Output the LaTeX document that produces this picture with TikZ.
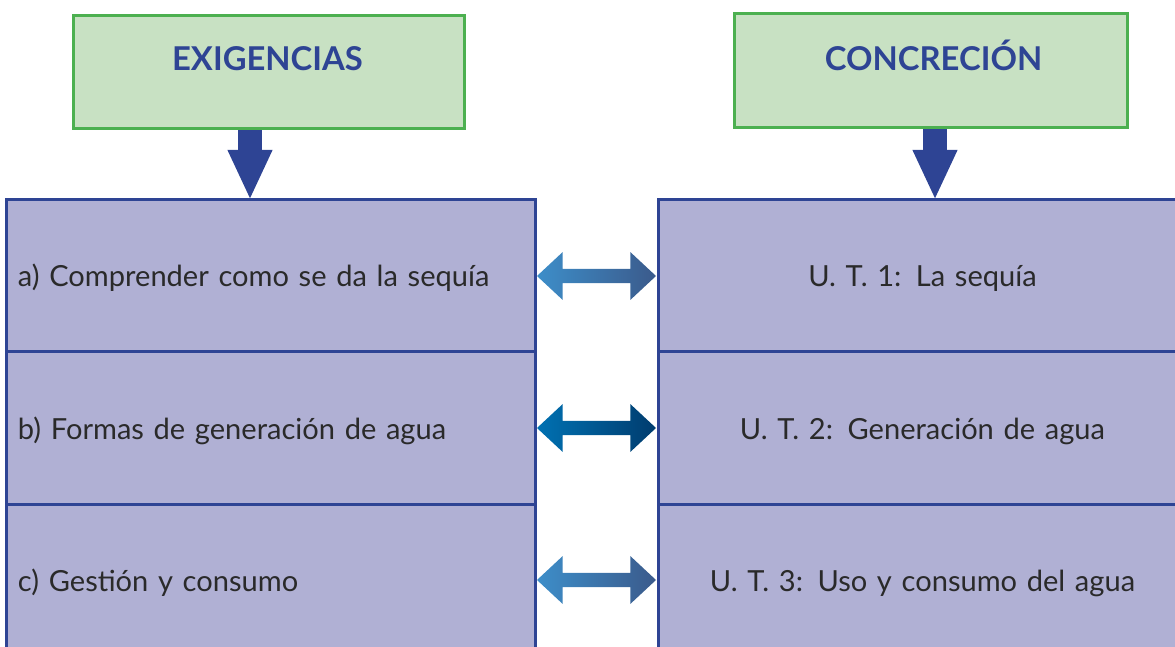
\documentclass[tikz,border=0pt]{standalone}
\usepackage{fontspec}
\setmainfont{Lato}
\usetikzlibrary{
    positioning,
    arrows.meta,
    shapes.arrows
}
\definecolor{verdeborde}{HTML}{4CB050}
\definecolor{verdefondo}{HTML}{C8E1C3}
\definecolor{azul}{HTML}{2E4494}
\definecolor{lila}{HTML}{B0B0D4}
\definecolor{gristexto}{HTML}{2A2A2A}
\definecolor{celeste}{HTML}{3D8EC9}
\definecolor{celestemedio}{HTML}{3889C5}
\definecolor{pizarra}{HTML}{3B5A8B}
\definecolor{marino}{HTML}{0071B2}
\definecolor{marinomedio}{HTML}{006CAD}
\definecolor{marinooscuro}{HTML}{003C6E}
\tikzset{
  titulo/.style={
    draw=verdeborde,
    fill=verdefondo,
    line width=0.09cm,
    minimum width=11.73cm,
    minimum height=3.39cm,
    inner sep=0pt
  },
  textotitulo/.style={
    anchor=base,
    text=azul,
    font=\bfseries\fontsize{28}{33}\selectfont
  },
  celda/.style={
    draw=azul,
    fill=lila,
    line width=0.09cm,
    outer sep=0pt,
    minimum width=15.87cm,
    minimum height=4.56cm,
    text width=15.15cm,
    inner xsep=0.36cm,
    inner ysep=0pt,
    text height=0.9cm,
    text depth=0.24cm,
    align=left,
    text=gristexto,
    font=\fontsize{24.8}{30}\selectfont
  },
  bajada/.style={
    azul,
    line width=0.72cm,
    -{Triangle[width=1.23cm,length=1.5cm]}
  },
  doble/.style={
    double arrow,
    minimum height=3.57cm,
    inner xsep=0pt,
    inner ysep=0.21cm,
    double arrow head extend=0.5cm,
    double arrow tip angle=86
  }
}

\begin{document}
\begin{tikzpicture}
    \useasboundingbox (0,0) rectangle (35.25,-19.41);
    \clip (0,0) rectangle (35.25,-19.41);

    % encabezados
    \node[titulo] (exi) at (8.055,-2.175) {};
    \node[titulo,minimum width=11.79cm,minimum height=3.42cm] (con) at (27.915,-2.13) {};
    \node[textotitulo] (exit) at ([xshift=-0.03cm,yshift=0.05cm]exi.center) {EXIGENCIAS};
    \node[textotitulo] (cont) at ([xshift=0.09cm]con.center) {CONCRECIÓN};

    % celdas
    \node[celda] (a1) at (8.115,-8.28) {a) Comprender como se da la sequía};
    \node[celda,below=0pt of a1] (a2) {b) Formas de generación de agua};
    \node[celda,below=0pt of a2] (a3) {c) Gestión y consumo};
    \node[celda,align=center,right=3.69cm of a1] (u1) {U. T. 1: La sequía};
    \node[celda,align=center,below=0pt of u1] (u2) {U. T. 2: Generación de agua};
    \node[celda,align=center,below=0pt of u2] (u3) {U. T. 3: Uso y consumo del agua};

    % flechas
    \coordinate (ex) at ([xshift=-0.555cm]exi.south);
    \coordinate (co) at ([xshift=0.135cm]con.south);
    \draw[bajada] (ex) -- (ex |- a1.north);
    \draw[bajada] (co) -- (co |- u1.north);
    \path (a1.east) -- (u1.west) node[midway,doble,left color=celeste,middle color=celestemedio,right color=pizarra] (f1) {};
    \path (a2.east) -- (u2.west) node[midway,doble,left color=marino,middle color=marinomedio,right color=marinooscuro] (f2) {};
    \path (a3.east) -- (u3.west) node[midway,doble,left color=celeste,middle color=celestemedio,right color=pizarra] (f3) {};
\end{tikzpicture}
\end{document}
